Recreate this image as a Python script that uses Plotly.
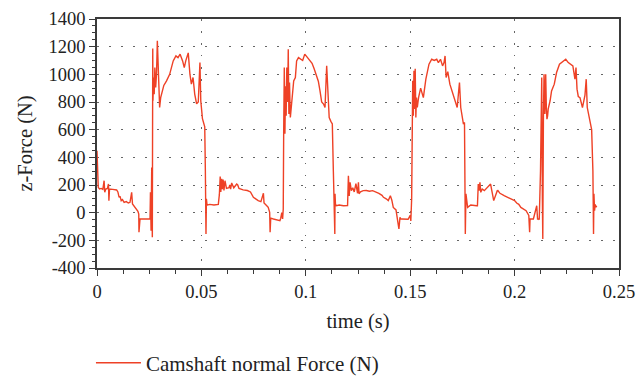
import plotly.graph_objects as go

# time (s) and camshaft normal force (N)
time_s = [
    0.0000, 0.0003, 0.0006, 0.0012, 0.0020, 0.0028, 0.0034, 0.0037, 0.0042, 0.0050, 0.0055, 0.0057, 0.0060,
    0.0075, 0.0094, 0.0100, 0.0106, 0.0110, 0.0116, 0.0122, 0.0130, 0.0140, 0.0150, 0.0158, 0.0166, 0.0170,
    0.0176, 0.0182, 0.0190, 0.0196, 0.0200, 0.0201, 0.0206, 0.0220, 0.0240, 0.0254, 0.0256, 0.0259, 0.0262,
    0.0265, 0.0267, 0.0268, 0.0271, 0.0274, 0.0277, 0.0281, 0.0285, 0.0289, 0.0294, 0.0297, 0.0300, 0.0305,
    0.0312, 0.0320, 0.0333, 0.0348, 0.0365, 0.0378, 0.0388, 0.0398, 0.0410, 0.0418, 0.0425, 0.0437, 0.0445,
    0.0452, 0.0460, 0.0468, 0.0477, 0.0485, 0.0493, 0.0497, 0.0505, 0.0512, 0.0516, 0.0519, 0.0521, 0.0522,
    0.0524, 0.0527, 0.0540, 0.0560, 0.0581, 0.0586, 0.0590, 0.0593, 0.0597, 0.0600, 0.0604, 0.0608, 0.0613,
    0.0620, 0.0632, 0.0636, 0.0640, 0.0645, 0.0655, 0.0669, 0.0674, 0.0680, 0.0700, 0.0720, 0.0735, 0.0749,
    0.0760, 0.0772, 0.0785, 0.0797, 0.0800, 0.0806, 0.0813, 0.0820, 0.0827, 0.0829, 0.0832, 0.0845, 0.0860,
    0.0876, 0.0880, 0.0885, 0.0889, 0.0892, 0.0894, 0.0897, 0.0900, 0.0903, 0.0906, 0.0909, 0.0913, 0.0916,
    0.0919, 0.0922, 0.0926, 0.0933, 0.0942, 0.0950, 0.0956, 0.0965, 0.0975, 0.0985, 0.0995, 0.1004, 0.1012,
    0.1020, 0.1030, 0.1040, 0.1046, 0.1052, 0.1060, 0.1068, 0.1076, 0.1085, 0.1092, 0.1100, 0.1108, 0.1112,
    0.1120, 0.1127, 0.1132, 0.1136, 0.1139, 0.1140, 0.1142, 0.1146, 0.1160, 0.1180, 0.1200, 0.1204, 0.1208,
    0.1212, 0.1218, 0.1225, 0.1232, 0.1240, 0.1248, 0.1252, 0.1255, 0.1262, 0.1275, 0.1290, 0.1305, 0.1320,
    0.1335, 0.1350, 0.1365, 0.1372, 0.1385, 0.1395, 0.1405, 0.1412, 0.1419, 0.1425, 0.1432, 0.1440, 0.1446,
    0.1451, 0.1454, 0.1460, 0.1475, 0.1490, 0.1500, 0.1503, 0.1507, 0.1510, 0.1512, 0.1515, 0.1518, 0.1521,
    0.1524, 0.1527, 0.1530, 0.1534, 0.1540, 0.1550, 0.1563, 0.1575, 0.1590, 0.1603, 0.1615, 0.1627, 0.1635,
    0.1645, 0.1655, 0.1662, 0.1667, 0.1672, 0.1680, 0.1690, 0.1700, 0.1710, 0.1719, 0.1725, 0.1731, 0.1736,
    0.1742, 0.1747, 0.1755, 0.1760, 0.1762, 0.1764, 0.1767, 0.1775, 0.1790, 0.1805, 0.1818, 0.1822, 0.1826,
    0.1830, 0.1834, 0.1838, 0.1845, 0.1855, 0.1870, 0.1885, 0.1900, 0.1914, 0.1917, 0.1920, 0.1930, 0.1950,
    0.1968, 0.1978, 0.1990, 0.2000, 0.2010, 0.2020, 0.2030, 0.2042, 0.2055, 0.2068, 0.2072, 0.2074, 0.2078,
    0.2090, 0.2106, 0.2110, 0.2114, 0.2118, 0.2124, 0.2130, 0.2133, 0.2135, 0.2138, 0.2141, 0.2145, 0.2149,
    0.2152, 0.2155, 0.2158, 0.2161, 0.2170, 0.2177, 0.2190, 0.2201, 0.2215, 0.2233, 0.2245, 0.2257, 0.2268,
    0.2279, 0.2289, 0.2294, 0.2299, 0.2305, 0.2313, 0.2325, 0.2337, 0.2343, 0.2348, 0.2354, 0.2360, 0.2365,
    0.2369, 0.2375, 0.2378, 0.2380, 0.2383, 0.2386, 0.2390, 0.2393, 0.2397,
]
force_n = [
    448, 300, 183, 171, 175, 168, 231, 147, 171, 175, 207, 87, 171,
    168, 164, 150, 111, 120, 87, 95, 75, 80, 70, 75, 147, 63,
    50, 40, 26, 10, -10, -142, -46, -46, -48, -46, 147, -130, 327,
    -178, 1186, 809, 977, 857, 1049, 905, 1000, 1242, 953, 787, 760, 832,
    881, 920, 953, 1000, 1097, 1133, 1121, 1146, 1097, 1049, 1097, 1155, 1001,
    929, 977, 857, 787, 800, 1085, 809, 680, 628, 620, 300, 140, -154,
    100, 55, 60, 55, 60, 130, 262, 150, 245, 170, 240, 160, 231,
    175, 180, 200, 170, 215, 180, 207, 200, 175, 165, 160, 150, 111,
    100, 87, 80, 140, 70, 63, 50, 38, 2, -142, -40, -46, -50,
    -58, -40, 0, -46, 26, 570, 1049, 570, 914, 700, 1050, 800, 1182,
    714, 940, 688, 832, 953, 977, 1097, 1121, 1110, 1100, 1146, 1130, 1117,
    1097, 1080, 1040, 1013, 977, 950, 881, 800, 785, 760, 1061, 760, 688,
    660, 642, 300, 120, -154, 137, 63, 50, 55, 50, 52, 267, 120,
    220, 159, 180, 150, 210, 140, 219, 137, 150, 159, 160, 155, 159,
    150, 140, 125, 111, 100, 87, 123, 90, 38, 30, 20, -60, -118,
    -34, -46, -46, -46, -48, -20, -60, 100, 520, 953, 700, 1025, 750,
    1040, 688, 832, 760, 832, 900, 832, 965, 1073, 1109, 1100, 1109, 1085, 1109,
    1061, 1085, 1133, 977, 1020, 929, 880, 832, 800, 760, 860, 941, 760,
    714, 640, 652, 300, -154, 137, 38, 55, 50, 50, 50, 207, 159,
    219, 147, 171, 159, 183, 207, 87, 159, 159, 160, 140,
    123, 111, 99, 95, 87, 70, 60, 38, 26, 14, -20, -142, -46,
    -46, -46, 50, -46, -46, -50, 300, 977, 100, -190, 688, 1001, 714,
    1001, 760, 676, 700, 750, 809, 880, 929, 1013, 1073, 1097, 1109, 1085,
    1075, 1061, 965, 1049, 893, 840, 832, 760, 850, 965, 760, 714, 652,
    640, 600, 300, -154, 137, 14, 60, 40, 50,
]

x_ticks = [0, 0.05, 0.1, 0.15, 0.2, 0.25]
x_tick_text = ["0", "0.05", "0.1", "0.15", "0.2", "0.25"]
y_ticks = [-400, -200, 0, 200, 400, 600, 800, 1000, 1200, 1400]
y_tick_text = ["-400", "-200", "0", "200", "400", "600", "800", "1000", "1200", "1400"]

series_name = "Camshaft normal Force (N)"
line_color = "#EE4126"
font_family = "Liberation Serif, Times New Roman, serif"
text_color = "#222222"

fig = go.Figure()
fig.add_trace(go.Scatter(
    x=time_s, y=force_n, mode="lines", name=series_name,
    line=dict(color=line_color, width=1.4),
    showlegend=True,
))

axis_common = dict(
    showline=True, linecolor="#3a3a3a", linewidth=1.5, mirror=True,
    ticks="outside", tickcolor="#3a3a3a", tickwidth=1.2, ticklen=6,
    showgrid=True, gridcolor="#666666", gridwidth=1.3, griddash="1.5px,10.5px",
    zeroline=False, automargin=False,
    tickfont=dict(family=font_family, size=18.5, color=text_color),
    title_font=dict(family=font_family, size=20.5, color=text_color),
)

fig.update_xaxes(
    range=[0, 0.25], tickvals=x_ticks, ticktext=x_tick_text,
    minor=dict(dtick=0.0125, ticks="outside", ticklen=4, tickcolor="#3a3a3a", showgrid=False),
    title_text="time (s)", title_standoff=13,
    **axis_common,
)
fig.update_yaxes(
    range=[-400, 1400], tickvals=y_ticks, ticktext=y_tick_text,
    minor=dict(dtick=50, ticks="outside", ticklen=3, tickcolor="#3a3a3a", showgrid=False),
    title_text="z-Force (N)", title_standoff=10,
    **axis_common,
)

fig.update_layout(
    width=636, height=379,
    margin=dict(l=97, r=17, t=19, b=111),
    paper_bgcolor="white", plot_bgcolor="white",
    font=dict(family=font_family, size=18, color=text_color),
    legend=dict(
        orientation="h", xref="container", yref="container",
        x=0.143, xanchor="left", y=0.042, yanchor="middle",
        itemwidth=45,
        font=dict(family=font_family, size=21, color=text_color),
        bgcolor="rgba(0,0,0,0)",
    ),
)

fig.write_html(
    "out.html",
    config={"displayModeBar": False},
    post_script="document.body.style.margin='0px';document.body.style.overflow='hidden';",
)
